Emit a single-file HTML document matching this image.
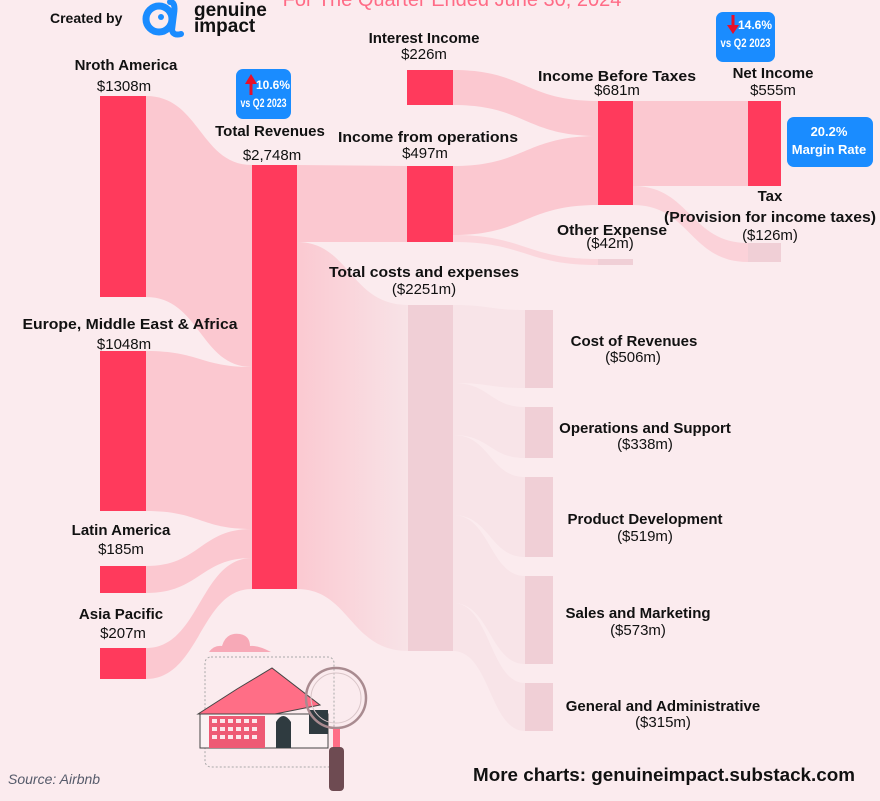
<!DOCTYPE html>
<html><head><meta charset="utf-8">
<style>
html,body{margin:0;padding:0;background:#fbebee;}
body{width:880px;height:796px;overflow:hidden;position:relative;font-family:"Liberation Sans",sans-serif;}
svg text{font-family:"Liberation Sans",sans-serif;}
.b{font-weight:bold;font-size:15px;fill:#111;}
.v{font-size:15px;fill:#111;}
</style></head><body>
<svg width="880" height="796" viewBox="0 0 880 796" xmlns="http://www.w3.org/2000/svg">
<defs>
<linearGradient id="fade" x1="0" x2="1" y1="0" y2="0">
<stop offset="0" stop-color="#fbc9d1"/><stop offset="1" stop-color="#f8e3e7"/>
</linearGradient>
</defs>
<rect width="880" height="796" fill="#fbebee"/>
<text x="452" y="6" text-anchor="middle" font-size="20" fill="#ff6b86">For The Quarter Ended June 30, 2024</text>
<!-- logo -->
<text x="50" y="23" font-size="14" font-weight="bold" fill="#111">Created by</text>
<circle cx="159" cy="19" r="13" fill="none" stroke="#1a8cff" stroke-width="7"/>
<circle cx="161" cy="17" r="3" fill="#1a8cff"/>
<path d="M170 2 Q176 2 174 14 L172 30 Q173 36 181 34" fill="none" stroke="#1a8cff" stroke-width="6" stroke-linecap="round"/>
<text x="194" y="16" font-size="19" font-weight="bold" fill="#111">genuine</text>
<text x="194" y="32" font-size="19" font-weight="bold" fill="#111">impact</text>

<!-- links -->
<g fill="#fbc8d0">
<path d="M146 96 C200 96,200 165,252 165 L252 367 C200 367,200 297,146 297Z"/>
<path d="M146 351 C200 351,200 367,252 367 L252 529 C200 529,200 511,146 511Z"/>
<path d="M146 566 C200 566,200 529,252 529 L252 558 C200 558,200 593,146 593Z"/>
<path d="M146 648 C200 648,200 558,252 558 L252 589 C200 589,200 679,146 679Z"/>
<path d="M297 165 L407 166 L407 242 L297 242Z"/>
<path d="M453 70 C525 70,525 101,598 101 L598 136 C525 136,525 105,453 105Z"/>
<path d="M453 166 C525 166,525 136,598 136 L598 205 C525 205,525 235,453 235Z"/>
<path d="M453 235 C525 235,525 259,598 259 L598 265 C525 265,525 242,453 242Z" opacity="0.6"/>
<path d="M633 101 L748 101 L748 186 L633 186Z"/>
<path d="M633 186 C690 186,690 243,748 243 L748 262 C690 262,690 205,633 205Z" opacity="0.7"/>
</g>
<path d="M297 242 C350 242,350 305,408 305 L408 651 C350 651,350 589,297 589Z" fill="url(#fade)"/>
<g fill="#f8e4e8">
<path d="M453 305 C490 305,490 310,525 310 L525 388 C490 388,490 383,453 383Z"/>
<path d="M453 383 C490 383,490 407,525 407 L525 458 C490 458,490 435,453 435Z"/>
<path d="M453 435 C490 435,490 477,525 477 L525 557 C490 557,490 515,453 515Z"/>
<path d="M453 515 C490 515,490 576,525 576 L525 664 C490 664,490 603,453 603Z"/>
<path d="M453 603 C490 603,490 683,525 683 L525 731 C490 731,490 651,453 651Z"/>
</g>

<!-- nodes -->
<g fill="#ff3a5c">
<rect x="100" y="96" width="46" height="201"/>
<rect x="100" y="351" width="46" height="160"/>
<rect x="100" y="566" width="46" height="27"/>
<rect x="100" y="648" width="46" height="31"/>
<rect x="252" y="165" width="45" height="424"/>
<rect x="407" y="70" width="46" height="35"/>
<rect x="407" y="166" width="46" height="76"/>
<rect x="598" y="101" width="35" height="104"/>
<rect x="748" y="101" width="33" height="85"/>
</g>
<g fill="#f0cfd6">
<rect x="408" y="305" width="45" height="346"/>
<rect x="598" y="259" width="35" height="6"/>
<rect x="748" y="243" width="33" height="19"/>
<rect x="525" y="310" width="28" height="78"/>
<rect x="525" y="407" width="28" height="51"/>
<rect x="525" y="477" width="28" height="80"/>
<rect x="525" y="576" width="28" height="88"/>
<rect x="525" y="683" width="28" height="48"/>
</g>

<!-- labels -->
<g text-anchor="middle">
<text class="b" x="126" y="70">Nroth America</text><text class="v" x="124" y="91">$1308m</text>
<text class="b" x="130" y="329" textLength="215" lengthAdjust="spacingAndGlyphs">Europe, Middle East &amp; Africa</text><text class="v" x="124" y="349">$1048m</text>
<text class="b" x="121" y="535">Latin America</text><text class="v" x="121" y="554">$185m</text>
<text class="b" x="121" y="619">Asia Pacific</text><text class="v" x="123" y="638">$207m</text>
<text class="b" x="270" y="136">Total Revenues</text><text class="v" x="272" y="160">$2,748m</text>
<text class="b" x="424" y="43">Interest Income</text><text class="v" x="424" y="59">$226m</text>
<text class="b" x="428" y="142" textLength="180" lengthAdjust="spacingAndGlyphs">Income from operations</text><text class="v" x="425" y="158">$497m</text>
<text class="b" x="424" y="277" textLength="190" lengthAdjust="spacingAndGlyphs">Total costs and expenses</text><text class="v" x="424" y="294">($2251m)</text>
<text class="b" x="617" y="81" textLength="158" lengthAdjust="spacingAndGlyphs">Income Before Taxes</text><text class="v" x="617" y="95">$681m</text>
<text class="b" x="773" y="78">Net Income</text><text class="v" x="773" y="95">$555m</text>
<text class="b" x="612" y="235" textLength="110" lengthAdjust="spacingAndGlyphs">Other Expense</text><text class="v" x="610" y="248">($42m)</text>
<text class="b" x="770" y="201">Tax</text>
<text class="b" x="770" y="222" textLength="212" lengthAdjust="spacingAndGlyphs">(Provision for income taxes)</text><text class="v" x="770" y="240">($126m)</text>
<text class="b" x="634" y="346">Cost of Revenues</text><text class="v" x="633" y="362">($506m)</text>
<text class="b" x="645" y="433">Operations and Support</text><text class="v" x="645" y="449">($338m)</text>
<text class="b" x="645" y="524">Product Development</text><text class="v" x="645" y="541">($519m)</text>
<text class="b" x="638" y="618">Sales and Marketing</text><text class="v" x="638" y="635">($573m)</text>
<text class="b" x="663" y="711">General and Administrative</text><text class="v" x="663" y="727">($315m)</text>
</g>

<!-- badges -->
<rect x="236" y="69" width="55" height="50" rx="7" fill="#1a8cff"/>
<path d="M251 74 L245 84 L249.5 84 L249.5 95 L252.5 95 L252.5 84 L257 84Z" fill="#e8102a"/>
<text x="273" y="89" text-anchor="middle" font-size="12" font-weight="bold" fill="#fff">10.6%</text>
<text x="263.5" y="107" text-anchor="middle" font-size="12" font-weight="bold" fill="#fff" textLength="46" lengthAdjust="spacingAndGlyphs">vs Q2 2023</text>
<rect x="716" y="12" width="59" height="50" rx="7" fill="#1a8cff"/>
<path d="M733 34 L727 25 L731.5 25 L731.5 15 L734.5 15 L734.5 25 L739 25Z" fill="#e8102a"/>
<text x="755" y="29" text-anchor="middle" font-size="12" font-weight="bold" fill="#fff">14.6%</text>
<text x="745.5" y="47" text-anchor="middle" font-size="12" font-weight="bold" fill="#fff" textLength="50" lengthAdjust="spacingAndGlyphs">vs Q2 2023</text>
<rect x="787" y="117" width="86" height="50" rx="7" fill="#1a8cff"/>
<text x="829" y="136" text-anchor="middle" font-size="13" font-weight="bold" fill="#fff">20.2%</text>
<text x="829" y="154" text-anchor="middle" font-size="13" font-weight="bold" fill="#fff">Margin Rate</text>

<!-- house illustration -->
<path d="M209 652 Q214 645 222 646 Q226 632 240 634 Q250 636 250 646 Q258 645 271 652Z" fill="#f7a9b7"/>
<rect x="205" y="657" width="129" height="110" rx="6" fill="none" stroke="#aaa" stroke-dasharray="2 2"/>
<path d="M198 714 L237 689 L272 668 L320 705 L275 714Z" fill="#ff6e86" stroke="#444" stroke-width="1"/>
<rect x="200" y="714" width="128" height="34" fill="#fbf2f3" stroke="#444" stroke-width="1"/>
<rect x="209" y="716" width="56" height="32" fill="#ee5a74"/>
<g fill="#fbe7eb">
<rect x="212" y="719" width="5" height="4"/><rect x="220" y="719" width="5" height="4"/><rect x="228" y="719" width="5" height="4"/><rect x="236" y="719" width="5" height="4"/><rect x="244" y="719" width="5" height="4"/><rect x="252" y="719" width="5" height="4"/>
<rect x="212" y="727" width="5" height="4"/><rect x="220" y="727" width="5" height="4"/><rect x="228" y="727" width="5" height="4"/><rect x="236" y="727" width="5" height="4"/><rect x="244" y="727" width="5" height="4"/><rect x="252" y="727" width="5" height="4"/>
<rect x="212" y="735" width="5" height="4"/><rect x="220" y="735" width="5" height="4"/><rect x="228" y="735" width="5" height="4"/><rect x="236" y="735" width="5" height="4"/><rect x="244" y="735" width="5" height="4"/><rect x="252" y="735" width="5" height="4"/>
</g>
<path d="M276 748 L276 722 Q283 710 291 722 L291 748Z" fill="#2f3b40"/>
<rect x="309" y="710" width="19" height="24" fill="#2f3b40"/>
<circle cx="336" cy="698" r="30" fill="none" stroke="#a98b90" stroke-width="2.5"/>
<circle cx="336" cy="698" r="25" fill="none" stroke="#d9c5c8" stroke-width="1"/>
<rect x="333" y="729" width="7" height="22" fill="#ff6e86"/>
<rect x="329" y="747" width="15" height="44" rx="4" fill="#6e4b52"/>

<text x="8" y="784" font-size="14" font-style="italic" fill="#555a6a">Source: Airbnb</text>
<text x="473" y="781" font-size="18" font-weight="bold" fill="#111" textLength="382" lengthAdjust="spacingAndGlyphs">More charts: genuineimpact.substack.com</text>
</svg>
</body></html>
